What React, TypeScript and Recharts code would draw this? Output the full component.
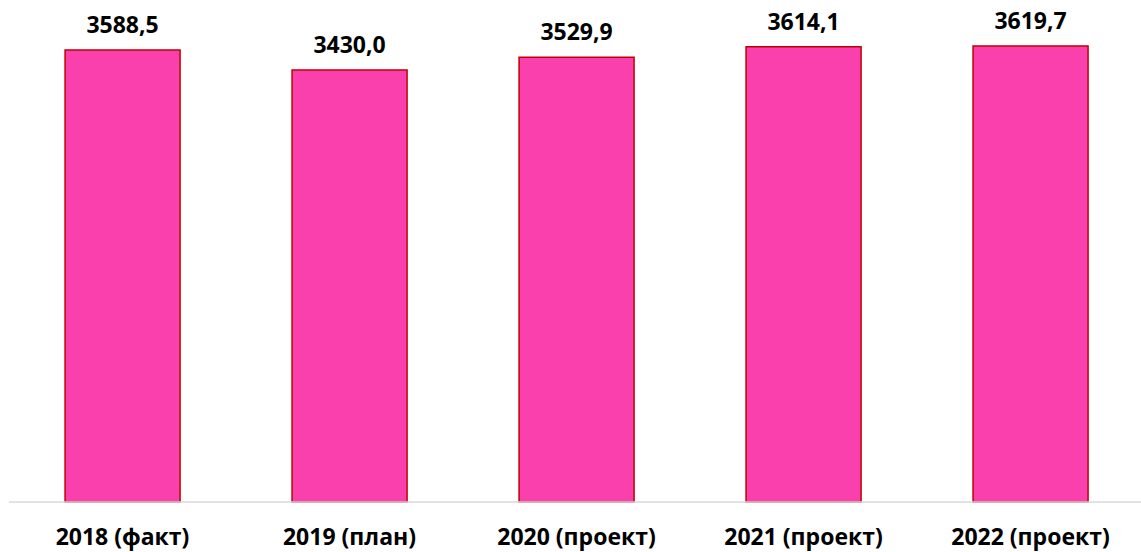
import { BarChart, Bar, XAxis, YAxis, LabelList } from 'recharts';

const categories = ['2018 (факт)', '2019 (план)', '2020 (проект)', '2021 (проект)', '2022 (проект)'];
const values = [3588.5, 3430.0, 3529.9, 3614.1, 3619.7];

const data = categories.map((name, i) => ({ name, value: values[i] }));

const FONT = '"Open Sans", "Noto Sans", sans-serif';

const formatValue = (v: any) => Number(v).toFixed(1).replace('.', ',');

export default function App() {
  return (
    <div
      style={{
        position: 'absolute',
        left: 0,
        top: 0,
        width: 1141,
        height: 552,
        overflow: 'hidden',
        background: '#ffffff',
      }}
    >
      <BarChart
        width={1144}
        height={552}
        data={data}
        margin={{ top: 0, right: 0, left: 9, bottom: 0 }}
        barCategoryGap="24.7%"
      >
        <XAxis
          dataKey="name"
          height={50}
          axisLine={{ stroke: '#D9D9D9', strokeWidth: 1.5 }}
          tickLine={false}
          tickMargin={21}
          interval={0}
          tick={{ fill: '#000000', fontSize: 23, fontWeight: 700, fontFamily: FONT }}
        />
        <YAxis hide domain={[0, 3985]} />
        <Bar
          dataKey="value"
          fill="#F940AC"
          stroke="#C00000"
          strokeWidth={1.5}
          isAnimationActive={false}
        >
          <LabelList
            dataKey="value"
            position="top"
            offset={17}
            formatter={formatValue}
            style={{ fill: '#000000', fontSize: 23, fontWeight: 700, fontFamily: FONT }}
          />
        </Bar>
      </BarChart>
    </div>
  );
}
